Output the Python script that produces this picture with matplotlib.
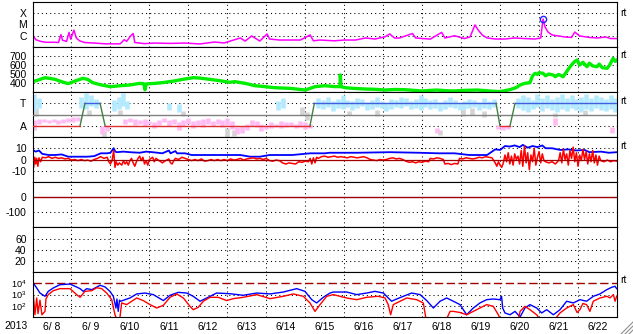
import matplotlib.pyplot as plt
from matplotlib.lines import Line2D
import numpy as np

plt.rcParams['font.family'] = ['Liberation Sans', 'DejaVu Sans']
plt.rcParams['font.size'] = 7.5

# ---- data, time in hours from 2013-06-08 00:00 ----
day_labels = ['6/ 8', '6/ 9', '6/10', '6/11', '6/12', '6/13', '6/14', '6/15',
              '6/16', '6/17', '6/18', '6/19', '6/20', '6/21', '6/22']

# X-ray flux (log10 W/m2)
xray_h = [0, 2, 5, 8, 14, 16, 17.5, 18.5, 21, 22.5, 23.5, 25.5, 27, 29, 32, 38, 45, 54,
          56.5, 58, 60.5, 62, 63, 69, 75, 85, 94, 103, 112, 118, 128, 131, 135, 140,
          144.5, 146, 152, 165, 171, 173, 177, 186, 192, 199, 205, 211, 217, 220, 223,
          226, 234, 236, 245, 252, 254, 260, 266, 269.5, 272.5, 274.5, 277, 280, 285,
          291, 297, 303, 309.5, 313, 314.5, 315.7, 317.5, 320, 324, 328, 332, 334, 337,
          343, 348, 353, 356, 360]
xray_log = [-5.9, -6.35, -6.5, -6.58, -6.58, -6.6, -5.9, -6.4, -6.5, -5.7, -6.3, -5.5,
            -6.2, -6.45, -6.6, -6.65, -6.72, -6.72, -6.35, -6.5, -6.0, -5.8, -6.6, -6.7,
            -6.65, -6.68, -6.65, -6.73, -6.56, -6.64, -6.2, -6.47, -6.02, -6.47, -5.84,
            -6.29, -6.38, -6.38, -5.93, -6.45, -6.38, -6.45, -6.38, -6.38, -6.2, -6.29,
            -6.1, -5.84, -6.2, -6.2, -5.8, -6.2, -6.3, -5.7, -6.2, -6.0, -6.25, -6.11,
            -5.04, -5.49, -5.93, -6.2, -6.29, -6.29, -6.2, -6.25, -6.29, -6.2, -4.51,
            -5.22, -5.67, -5.93, -6.02, -6.11, -6.15, -5.67, -6.02, -6.15, -6.2, -6.11,
            -6.25, -6.25]
flare_h = 314.5
flare_log = -4.54

# solar wind speed (km/s)
speed_h = [0, 3, 7.7, 11, 14, 17, 19, 22, 26, 31, 34, 37, 42, 48, 54, 60, 66, 68.5, 69.3,
           70, 75, 80, 86.5, 92.7, 99, 103, 109, 115.5, 121.6, 124.7, 131, 137, 143, 149,
           159, 168, 174, 180, 186, 189.4, 189.6, 190, 192.5, 198, 205, 211, 217, 223,
           229, 235, 240, 245, 249, 254, 259, 266, 274, 281, 288, 294, 298, 300.3, 303,
           306.4, 308, 309.5, 311, 312, 314.5, 316, 318, 320.6, 322, 324, 326.8, 328,
           329.5, 331.1, 332.5, 334, 335.4, 337, 339, 341.5, 343, 345, 347.7, 349, 351,
           353.9, 355.5, 357.6, 359, 360]
speed = [415, 430, 459, 450, 440, 420, 408, 393, 420, 452, 440, 404, 380, 359, 370, 378,
         396, 392, 325, 390, 395, 404, 420, 441, 459, 455, 441, 425, 408, 415, 396, 370,
         360, 348, 340, 322, 359, 370, 360, 360, 489, 360, 348, 340, 333, 330, 322, 328,
         326, 318, 311, 318, 322, 315, 311, 318, 322, 312, 304, 326, 350, 378, 395, 404,
         480, 507, 495, 515, 507, 480, 500, 489, 470, 495, 470, 500, 540, 581, 610, 640,
         655, 600, 630, 581, 620, 590, 581, 610, 570, 563, 600, 674, 640, 655]

# IMF sector (1 = Away, 3 = Toward)
sector_h = [0, 29.3, 32.3, 41.6, 44.7, 170.9, 173.6, 285.5, 287.9, 294.1, 297.2, 360]
sector = [1, 1, 3, 3, 1, 1, 3, 3, 1, 1, 3, 3]

# phi-angle point clouds: hour, low, high
tow_h = [1, 4, 30, 33, 36, 39, 50, 53, 56, 58, 84, 90, 151, 154, 176, 179, 182, 185, 188,
         191, 194, 197, 200, 203, 206, 209, 212, 215, 218, 221, 224, 227, 230, 233, 236,
         239, 242, 245, 248, 251, 254, 257, 260, 263, 266, 269, 272, 275, 278, 281, 284,
         299, 302, 305, 308, 311, 314, 317, 320, 323, 326, 329, 332, 335, 338, 341, 344,
         347, 350, 353, 356, 359]
tow_lo = [2.3, 2.6, 2.6, 2.5, 2.8, 2.6, 2.3, 2.5, 2.8, 2.5, 2.4, 2.2, 2.4, 2.6, 2.6, 2.5,
          2.7, 2.3, 2.6, 2.5, 2.7, 2.4, 2.6, 2.8, 2.4, 2.5, 2.7, 2.6, 2.3, 2.5, 2.7, 2.6,
          2.8, 2.5, 2.6, 2.4, 2.7, 2.5, 2.6, 2.3, 2.5, 2.7, 2.6, 2.4, 2.5, 2.6, 2.7, 2.4,
          2.6, 2.5, 2.7, 2.6, 2.4, 2.2, 2.5, 2.7, 2.3, 2.6, 2.4, 2.2, 2.5, 2.3, 2.6, 2.4,
          2.2, 2.5, 2.3, 2.6, 2.4, 2.3, 2.5, 2.2]
tow_hi = [3.8, 3.5, 3.6, 3.9, 3.7, 3.4, 3.3, 3.6, 3.9, 3.2, 3.0, 2.9, 3.2, 3.5, 3.5, 3.3,
          3.6, 3.2, 3.4, 3.7, 3.3, 3.2, 3.5, 3.4, 3.1, 3.3, 3.6, 3.2, 3.0, 3.4, 3.3, 3.6,
          3.5, 3.2, 3.4, 3.7, 3.5, 3.3, 3.4, 3.1, 3.3, 3.6, 3.3, 3.0, 3.2, 3.4, 3.3, 3.1,
          3.5, 3.2, 3.4, 3.5, 3.7, 3.6, 3.3, 3.8, 3.5, 3.7, 3.4, 3.6, 3.8, 3.5, 3.7, 3.4,
          3.6, 3.8, 3.5, 3.7, 3.6, 3.4, 3.7, 3.5]
away_h = [1, 4, 7, 10, 13, 16, 19, 22, 25, 28, 43, 46, 57, 60, 63, 66, 69, 72, 75, 78, 81,
          84, 87, 90, 93, 96, 99, 102, 105, 108, 111, 114, 117, 120, 123, 126, 129, 132,
          135, 138, 141, 144, 147, 150, 153, 156, 159, 162, 165, 168, 171, 249, 287, 290,
          293, 322, 357]
away_lo = [0.6, 1.2, 1.3, 1.25, 1.3, 1.2, 1.25, 1.3, 1.35, 1.4, 0.3, 0.5, 1.2, 1.3, 1.1,
           1.2, 1.0, 1.2, 0.8, 1.1, 1.3, 1.0, 1.2, 0.6, 1.0, 1.2, 0.8, 1.1, 0.9, 1.2, 1.0,
           1.2, 0.9, 1.1, 0.7, 0.3, 0.4, 0.6, 1.0, 0.9, 0.5, 0.7, 0.8, 0.9, 0.8, 0.9, 1.0,
           0.8, 0.9, 0.7, 0.8, 0.4, 0.7, 0.6, 0.7, 1.1, 0.4]
away_hi = [1.5, 1.6, 1.6, 1.55, 1.6, 1.5, 1.6, 1.7, 1.75, 1.8, 1.0, 1.1, 1.6, 1.7, 1.6,
           1.5, 1.6, 1.4, 1.3, 1.5, 1.7, 1.5, 1.6, 1.3, 1.5, 1.7, 1.4, 1.5, 1.6, 1.7, 1.4,
           1.6, 1.5, 1.7, 1.4, 0.9, 1.0, 1.2, 1.5, 1.4, 1.2, 1.1, 1.3, 1.2, 1.4, 1.3, 1.3,
           1.2, 1.4, 1.3, 1.2, 0.8, 1.1, 1.0, 1.1, 1.7, 0.9]
grey_h = [2, 35, 44, 54, 93, 120, 124, 166, 169, 195, 212, 251, 265, 271, 278, 322, 340]
grey_lo = [1.9, 2.0, 0.0, 2.0, 1.9, 0.0, 0.1, 2.0, 1.5, 2.0, 1.9, 0.2, 1.9, 2.0, 1.8, 1.8, 2.0]
grey_hi = [2.6, 2.4, 0.5, 2.4, 2.3, 0.8, 0.6, 2.7, 2.2, 2.3, 2.4, 0.6, 2.5, 2.6, 2.3, 2.1, 2.4]

# IMF Bt and Bz (nT)
bt_h = [0, 2, 4, 6, 8, 10, 14, 18, 20, 22, 28, 34, 38, 42, 46, 48, 50, 51, 52, 56, 60, 66,
        70, 74, 80, 84, 85, 88, 89, 94, 98, 110, 122, 128, 134, 140, 146, 160, 171, 180,
        183, 200, 220, 238, 250, 260, 269, 280, 285, 288, 291, 294, 297, 300, 302, 305,
        308, 311, 314, 316, 320, 325, 330, 335, 340, 343, 350, 355, 360]
bt = [8.5, 7, 8, 5, 4.5, 4, 4, 4.5, 3.5, 2.5, 2.5, 2.5, 3, 5.5, 5.5, 6, 10, 7, 6.5, 7, 6.5,
      6, 7, 6.5, 5.5, 8, 5.5, 7.5, 5.5, 5.5, 4, 4, 4, 4, 2.5, 2.5, 4, 4, 5.5, 5.5, 6, 6,
      6.5, 6, 5.5, 5.5, 4, 4, 9, 8.5, 12, 11.5, 12.5, 11, 13, 10.5, 12, 11, 12.5, 10, 10,
      8.5, 9, 8, 8.5, 6.5, 7, 6, 6.5]
bz_h = [0, 0.7, 1.4, 2, 2.6, 3.3, 4, 5, 6, 8, 10, 12, 14, 16, 18, 20, 22, 24, 26, 28, 30,
        32, 34, 36, 38, 40, 42, 44, 46, 47, 48, 49, 50, 50.8, 51.5, 52.5, 53.5, 55, 56, 57,
        58, 59, 60, 61, 62, 63, 64, 65, 66, 67, 68, 69, 70, 71, 72, 74, 75, 76, 78, 80,
        82, 84, 85, 86, 87, 88, 90, 92, 94, 96, 98, 100, 102, 104, 106, 108, 110, 112,
        114, 116, 118, 120, 122, 124, 126, 128, 130, 132, 134, 136, 138, 140, 142, 144,
        146, 148, 150, 152, 154, 156, 158, 160, 162, 164, 166, 168, 170, 171, 172, 173,
        174, 175, 176, 178, 180, 182, 184, 186, 188, 190, 192, 194, 196, 198, 200, 202,
        204, 206, 208, 210, 212, 214, 216, 218, 220, 222, 224, 226, 228, 230, 232, 234,
        236, 238, 240, 242, 244, 245, 247, 249, 251, 253, 254, 256, 258, 260, 262, 263,
        265, 267, 269, 271, 273, 275, 277, 279, 281, 283, 285, 286, 287, 288, 289, 290,
        291, 292, 293, 294, 295, 296, 297, 298, 299, 300, 301, 302, 303, 304, 305, 306,
        307, 308, 309, 310, 311, 312, 313, 314, 315, 316, 318, 320, 322, 324, 325, 326,
        327, 328, 329, 330, 331, 332, 333, 334, 335, 336, 337, 338, 339, 340, 341, 342,
        343, 344, 345, 346, 347, 348, 349, 350, 352, 354, 356, 358, 360]
bz = [1, -7, 2, -4, 1, -6, 1.5, -2, 2, 1.5, 2.5, 1, 2, 1, 1.5, 0.5, 1, -0.5, 0, -1, 0, -1,
      -0.5, -1.5, 0, 1, 2.5, 1, 2, -2, -4, -1, 8, -7, -2, -5, -3, -5, -1, -4, -2, -5, -1,
      1, -3, -6, -2, 1, 3, -1, 2, -4, -1, -5, 0, 2, -2, 1, -1, -3, -1, 0.5, -3, -4, -1,
      1, 0, 2, 1, 0, -1, 0, -1, 0.5, -1.5, -1, 0, -1, 0, -1, 0, -1, 0.5, -0.5, 0, 1,
      -0.5, 0.5, 1, 1.5, 0.5, 1, 0, 1, -1, -1.5, -0.5, -1, -3, -4, -3, -3.5, -4, -2,
      -2.5, -1.5, -2, 1, -4, 1.5, -3, 2, 1, 2.5, 3, 2, 2.5, 3, 2, 2.5, 2, 1.5, 2.5, 2,
      1.5, 2, 2.5, 1.5, 0, -0.5, -1, 0, -0.5, 0, 1, 1.5, 0.5, 1, 0, -1.5, -2.5, -2, -3,
      -2, -2.5, -1.5, -2, 1, 0.5, 1.5, 1, 0, -4, -3.5, -4.5, -3.5, -4, 1, 0.5, 1.5, 1,
      0.5, 1, 2, 1.5, 2.5, 2, 1.5, -3, -6, -2, -5, -7, -3, 4, -2, 6, -4, 3, -5, 5, 0, 3,
      -4, 8, -6, 12, -3, 6, -9, 4, -2, 10, -5, 2, 7, -3, 5, -1, -2, -3, -2, -4, -1, 6,
      -3, 9, 0, 5, -5, 8, 1, 11, -2, 6, -6, 4, -1, 9, 0, 7, -4, 5, -2, 8, -3, 4, -5, 3,
      -1, -2, -0.5, -2, -1, -1.5]

# electron flux (log10)
eb_h = [0.5, 2.6, 4.6, 7.7, 9.7, 12.8, 16.9, 23.1, 26.2, 29.3, 31.3, 33.4, 36.5, 38.5,
        41.6, 44.7, 47.7, 49.8, 51.4, 52, 52.8, 53.6, 54.3, 57, 60, 64.2, 69.3, 74.4,
        80.6, 84.7, 89.8, 95, 99, 103.2, 107.3, 113.4, 121.6, 129.8, 138.1, 146.3, 154.5,
        162.7, 167.8, 172, 175, 179.1, 183.2, 185.3, 193.5, 199.7, 205.8, 210.9, 216.1,
        219.1, 221.2, 223.3, 228.4, 233.5, 238.7, 242.8, 246.9, 251, 255.1, 259.2, 263.3,
        267.4, 271.5, 275.6, 279.7, 283.8, 287.9, 288.9, 289.6, 291, 294.1, 297.2, 300.3,
        303.3, 306.4, 310.5, 313.6, 316.7, 320.8, 324.9, 329, 333.1, 337.2, 341.3, 345.4,
        349.5, 353.7, 356.7, 358.8, 359.8]
eb = [4.0, 3.58, 3.13, 2.84, 3.28, 3.58, 3.87, 3.93, 3.73, 3.52, 3.28, 3.52, 3.43, 3.58,
      3.82, 3.67, 3.28, 2.84, 1.8, 2.6, 1.5, 2.5, 2.4, 2.54, 2.69, 3.05, 3.13, 2.99, 2.46,
      2.93, 3.19, 3.13, 2.84, 2.4, 2.69, 3.13, 3.07, 2.93, 3.13, 3.05, 3.22, 3.52, 3.28,
      2.54, 2.25, 2.75, 3.13, 3.22, 3.22, 2.99, 3.13, 3.28, 3.13, 2.69, 2.4, 2.54, 2.84,
      3.13, 2.99, 2.46, 1.8, 2.4, 2.69, 2.4, 2.1, 1.2, 1.8, 2.25, 2.54, 2.6, 2.54, 2.84,
      1.8, 1.36, 1.2, 1.5, 1.0, 1.8, 2.1, 1.8, 1.36, 1.65, 1.2, 1.65, 2.4, 2.25, 2.54,
      2.4, 2.84, 3.05, 3.43, 3.64, 3.73, 3.52]
er_h = [0.5, 1.5, 2.6, 3.4, 4.6, 5.8, 7.7, 8.3, 9.7, 12.8, 16.9, 23.1, 27.2, 29.3, 32.3,
        36.5, 39.5, 42.6, 45.7, 48.8, 50.8, 52.8, 53.9, 54.9, 58, 61.1, 64.2, 68.2, 72.4,
        76.5, 80.6, 84.7, 88.8, 92.9, 97, 99, 102.1, 105.2, 109.3, 114.4, 119.6, 123.7,
        129.8, 138.1, 146.3, 154.5, 160.6, 166.8, 170.9, 174, 177.1, 181.2, 185.3, 193.5,
        199.7, 205.8, 212.9, 217.1, 219.1, 220.6, 222.2, 226.4, 230.5, 236.6, 240.7, 242.4,
        244.8, 254, 257.2, 259.2, 263.3, 267.4, 271.5, 275.6, 279.7, 283.8, 286.9, 289,
        299, 300.3, 303.3, 306.4, 310.5, 312.6, 321.8, 324.9, 329, 333.1, 335.4, 337.2,
        339, 341.3, 343.3, 345.4, 349.5, 353.7, 355.7, 357.8, 358.8, 359.8]
er = [2.99, 1.2, 2.69, 1.3, 2.5, 1.2, 1.5, 2.6, 2.99, 3.34, 3.52, 3.52, 2.99, 2.75, 3.28,
      3.34, 3.6, 3.52, 3.13, 2.54, 1.2, 0.5, 1.0, 2.25, 2.1, 2.4, 2.69, 2.46, 2.1, 1.8,
      2.04, 2.75, 3.05, 2.69, 1.95, 1.65, 1.86, 2.4, 2.75, 2.75, 2.46, 2.63, 2.75, 2.99,
      2.63, 2.84, 3.05, 2.84, 2.25, 1.5, 2.1, 2.84, 2.99, 2.69, 2.54, 2.75, 2.84, 2.69,
      2.1, 1.2, 2.1, 2.4, 2.69, 2.54, 2.25, 0.8, 0.5, 0.5, 1.5, 1.5, 1.4, 1.2, 1.5, 1.8,
      2.1, 1.95, 1.2, 0.5, 0.5, 1.5, 1.95, 1.65, 1.2, 0.8, 0.8, 1.36, 1.8, 2.1, 1.4, 1.65,
      2.2, 2.1, 1.5, 2.4, 2.69, 2.84, 2.7, 2.99, 2.4, 2.84]

# ---- layout ----
W, H = 633, 334
fig = plt.figure(figsize=(W / 100, H / 100), dpi=100)
x0, x1, top0, ph = 32.5, 617, 2, 45
axes = []
for i in range(7):
    t = top0 + ph * i
    ax = fig.add_axes([x0 / W, 1 - (t + ph) / H, (x1 - x0) / W, ph / H])
    ax.set_xlim(0, 360)
    ax.set_xticks([])
    ax.tick_params(length=0, pad=4.3, labelsize=7.5)
    for s in ax.spines.values():
        s.set_linewidth(0.8)
    for d in range(24, 360, 24):
        ax.axvline(d, color='black', lw=0.75, ls=(0, (1, 3)), zorder=1)
    axes.append(ax)
ax1, ax2, ax3, ax4, ax5, ax6, ax7 = axes
dot = dict(color='black', lw=0.75, ls=(0, (1, 3)), zorder=1)
dkred = '#a00000'

# X-ray
ax1.set_yscale('log')
ax1.set_ylim(1e-7, 1e-3)
for v in [1e-4, 1e-5, 1e-6]:
    ax1.axhline(v, **dot)
ax1.set_yticks([1e-4, 1e-5, 1e-6], ['X', 'M', 'C'])
ax1.plot(xray_h, 10 ** np.array(xray_log), color='#ff00ff', lw=1.1)
ax1.plot(flare_h, 10 ** flare_log, 'o', mfc='none', mec='#2020ff', ms=4.5, mew=1.0)
ax1.minorticks_off()

# speed
ax2.set_ylim(300, 800)
for v in [400, 500, 600, 700]:
    ax2.axhline(v, **dot)
ax2.set_yticks([700, 600, 500, 400])
ax2.plot(speed_h, speed, color='#00ee00', lw=2.4)

# sector / phi
ax3.set_ylim(0, 4)
for v in [1, 3]:
    ax3.axhline(v, **dot)
ax3.set_yticks([3, 1], ['T', 'A'])
ax3.vlines(grey_h, grey_lo, grey_hi, color='#d4d4d4', lw=3.3)
ax3.vlines(tow_h, tow_lo, tow_hi, color='#b4eaff', lw=3.3)
ax3.vlines(away_h, away_lo, away_hi, color='#ffbcf4', lw=3.3)
ax3.axhline(2, color='#808080', lw=1.0, zorder=3)
for i in range(len(sector_h) - 1):
    a, b = sector[i], sector[i + 1]
    col = '#4060e0' if a == b == 3 else ('#e03030' if a == b == 1 else '#408040')
    ax3.plot(sector_h[i:i + 2], sector[i:i + 2], color=col, lw=1.0, zorder=4)

# Bt / Bz
ax4.set_ylim(-20, 20)
for v in [10, -10]:
    ax4.axhline(v, **dot)
ax4.set_yticks([10, 0, -10], ['10', '0', '-10'])
ax4.plot(bt_h, bt, color='#0000ff', lw=1.3)
ax4.plot(bz_h, bz, color='#ff0000', lw=1.1)
ax4.axhline(0, color=dkred, lw=0.9, zorder=3)

# Dst (empty)
ax5.set_ylim(-200, 100)
ax5.axhline(-100, **dot)
ax5.axhline(0, color=dkred, lw=1.0)
ax5.set_yticks([0, -100], ['0', '-100'])

# empty panel
ax6.set_ylim(-1, 83)
for v in [20, 40, 60]:
    ax6.axhline(v, **dot)
ax6.set_yticks([60, 40, 20])

# electrons
ax7.set_yscale('log')
ax7.set_ylim(1e1, 1e5)
for v in [1e3, 1e2]:
    ax7.axhline(v, **dot)
ax7.axhline(1e4, color=dkred, lw=1.0, ls=(0, (6, 2.5)))
ax7.set_yticks([1e4, 1e3, 1e2], [r'$\mathregular{10^4}$', r'$\mathregular{10^3}$',
                                 r'$\mathregular{10^2}$'])
ax7.tick_params(axis='y', labelsize=6.6)
ax7.plot(eb_h, 10 ** np.array(eb), color='#0000ff', lw=1.0)
ax7.plot(er_h, 10 ** np.array(er), color='#ff0000', lw=1.0)
ax7.minorticks_off()
ax7.set_xticks([12 + 24 * k for k in range(15)], day_labels)
ax7.tick_params(axis='x', length=0, pad=3.5)

fig.text(16 / W, 1 - 326 / H, '2013', ha='center', va='center', fontsize=7.5)
for y in [13, 55, 101, 146, 280]:
    fig.text(623 / W, 1 - y / H, 'rt', ha='center', va='center', fontsize=7.5)

# window resize grip
for k in [4, 8, 12]:
    fig.add_artist(Line2D([(W - k) / W, 1], [0, k / H], color='#909090', lw=0.8,
                          transform=fig.transFigure))

fig.savefig('out.png', dpi=100)
